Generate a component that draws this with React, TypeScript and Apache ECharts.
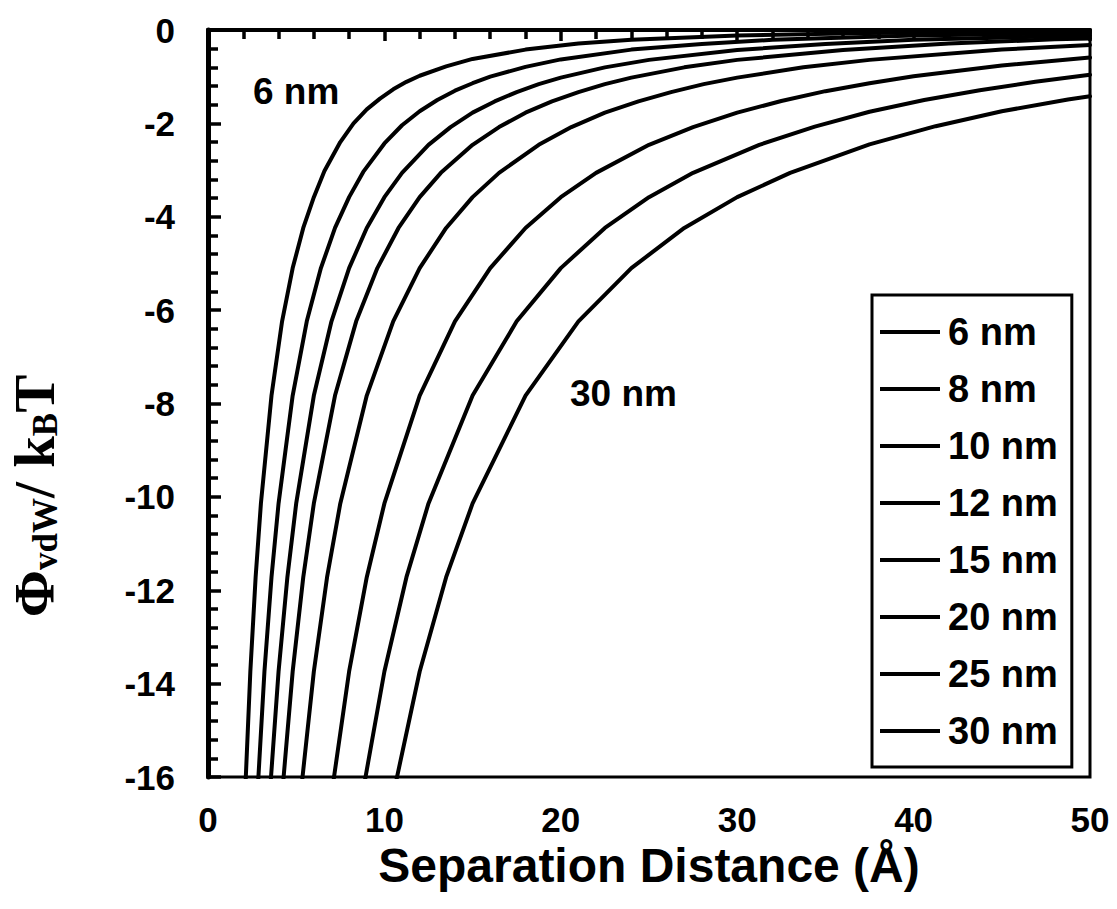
import React, { useEffect, useRef } from "react";
import * as echarts from "echarts";

const seriesNames = ["6 nm", "8 nm", "10 nm", "12 nm", "15 nm", "20 nm", "25 nm", "30 nm"];

const sep6 = [1.95, 2.1, 2.4, 2.7, 3.0, 3.6, 4.2, 4.8, 5.4, 6.0, 6.6, 7.5, 8.25, 9.0, 9.75, 10.5, 11.25, 12, 13.5, 15, 18, 21, 24, 30, 37.5, 50];
const pot6 = [-18.03, -16.38, -13.74, -11.72, -10.14, -7.83, -6.24, -5.10, -4.24, -3.58, -3.02, -2.40, -2.00, -1.70, -1.47, -1.27, -1.11, -0.98, -0.78, -0.62, -0.42, -0.29, -0.21, -0.12, -0.062, -0.025];

const sep8 = [2.6, 2.8, 3.2, 3.6, 4.0, 4.8, 5.6, 6.4, 7.2, 8.0, 8.8, 10, 11, 12, 13, 14, 15, 16, 18, 20, 24, 28, 32, 40, 50];
const pot8 = [-18.03, -16.38, -13.74, -11.72, -10.14, -7.83, -6.24, -5.10, -4.24, -3.58, -3.04, -2.43, -2.04, -1.74, -1.50, -1.30, -1.14, -1.00, -0.79, -0.63, -0.42, -0.30, -0.21, -0.12, -0.062];

const sep10 = [3.25, 3.5, 4, 4.5, 5, 6, 7, 8, 9, 10, 11, 12.5, 13.75, 15, 16.25, 17.5, 18.75, 20, 22.5, 25, 30, 35, 40, 50];
const pot10 = [-18.03, -16.38, -13.74, -11.72, -10.14, -7.83, -6.24, -5.10, -4.24, -3.58, -3.06, -2.46, -2.08, -1.77, -1.53, -1.33, -1.16, -1.02, -0.80, -0.64, -0.43, -0.30, -0.21, -0.12];

const sep12 = [3.9, 4.2, 4.8, 5.4, 6, 7.2, 8.4, 9.6, 10.8, 12, 13.2, 15, 16.5, 18, 19.5, 21, 22.5, 24, 27, 30, 36, 42, 48, 50];
const pot12 = [-18.03, -16.38, -13.74, -11.72, -10.14, -7.83, -6.24, -5.10, -4.24, -3.58, -3.06, -2.46, -2.08, -1.77, -1.53, -1.33, -1.16, -1.02, -0.80, -0.64, -0.43, -0.29, -0.20, -0.18];

const sep15 = [4.875, 5.25, 6, 6.75, 7.5, 9, 10.5, 12, 13.5, 15, 16.5, 18.75, 20.6, 22.5, 24.4, 26.25, 28.1, 30, 33.75, 37.5, 45, 50];
const pot15 = [-18.03, -16.38, -13.74, -11.72, -10.14, -7.83, -6.24, -5.10, -4.24, -3.58, -3.06, -2.46, -2.08, -1.77, -1.53, -1.33, -1.16, -1.02, -0.80, -0.64, -0.42, -0.32];

const sep20 = [6.5, 7, 8, 9, 10, 12, 14, 16, 18, 20, 22, 25, 27.5, 30, 32.5, 35, 37.5, 40, 45, 50];
const pot20 = [-18.03, -16.38, -13.74, -11.72, -10.14, -7.83, -6.24, -5.10, -4.24, -3.58, -3.06, -2.46, -2.08, -1.77, -1.52, -1.31, -1.14, -0.99, -0.76, -0.59];

const sep25 = [8.1, 8.75, 10, 11.25, 12.5, 15, 17.5, 20, 22.5, 25, 27.5, 31.25, 34.4, 37.5, 40.6, 43.75, 46.9, 50];
const pot25 = [-18.03, -16.38, -13.74, -11.72, -10.14, -7.83, -6.24, -5.10, -4.24, -3.58, -3.06, -2.46, -2.07, -1.75, -1.50, -1.29, -1.11, -0.96];

const sep30 = [9.75, 10.5, 12, 13.5, 15, 18, 21, 24, 27, 30, 33, 37.5, 41.25, 45, 48.75, 50];
const pot30 = [-18.03, -16.38, -13.74, -11.72, -10.14, -7.83, -6.24, -5.10, -4.24, -3.58, -3.06, -2.45, -2.06, -1.74, -1.49, -1.42];

const seps = [sep6, sep8, sep10, sep12, sep15, sep20, sep25, sep30];
const pots = [pot6, pot8, pot10, pot12, pot15, pot20, pot25, pot30];

const xTicks = { min: 0, max: 50, interval: 10 };
const yTicks = { min: -16, max: 0, interval: 2 };

const SANS = "'Liberation Sans', Arial, sans-serif";
const SERIF = "'Liberation Serif', 'Times New Roman', serif";

export default function App() {
  const ref = useRef<HTMLDivElement>(null);
  useEffect(() => {
    if (!ref.current) return;
    const chart = echarts.init(ref.current, undefined, { renderer: "svg" });
    const series = seriesNames.map((name, i) => ({
      name,
      type: "line",
      data: seps[i].map((x, j) => [x, pots[i][j]]),
      symbol: "none",
      showSymbol: false,
      smooth: false,
      clip: true,
      lineStyle: { color: "#000", width: 4, join: "round", cap: "round" },
      itemStyle: { color: "#000" },
      xAxisIndex: 0,
      yAxisIndex: 0,
    }));
    chart.setOption({
      animation: false,
      backgroundColor: "#fff",
      grid: {
        left: 208,
        top: 30,
        right: 27,
        bottom: 132,
        show: true,
        borderColor: "#000",
        borderWidth: 3,
        backgroundColor: "transparent",
      },
      xAxis: [
        {
          type: "value",
          position: "bottom",
          min: xTicks.min,
          max: xTicks.max,
          interval: xTicks.interval,
          axisLine: { show: true, lineStyle: { color: "#000", width: 3.5 } },
          axisTick: { show: false },
          splitLine: { show: false },
          axisLabel: {
            margin: 25,
            color: "#000",
            fontSize: 35,
            fontWeight: "bold",
            fontFamily: SANS,
          },
          name: "Separation Distance (Å)",
          nameLocation: "middle",
          nameGap: 60,
          nameTextStyle: {
            color: "#000",
            fontSize: 48,
            fontWeight: "bold",
            fontFamily: SANS,
          },
        },
        {
          type: "value",
          position: "top",
          min: xTicks.min,
          max: xTicks.max,
          interval: xTicks.interval,
          axisLine: { show: true, lineStyle: { color: "#000", width: 4 } },
          axisTick: { show: true, inside: true, length: 11, lineStyle: { color: "#000", width: 3.5 } },
          minorTick: { show: true, splitNumber: 5, length: 9, lineStyle: { color: "#000", width: 3.5 } },
          axisLabel: { show: false },
          splitLine: { show: false },
        },
      ],
      yAxis: {
        type: "value",
        min: yTicks.min,
        max: yTicks.max,
        interval: yTicks.interval,
        axisLine: { show: true, onZero: false, lineStyle: { color: "#000", width: 5 } },
        axisTick: { show: true, inside: true, length: 13, lineStyle: { color: "#000", width: 3.5 } },
        minorTick: { show: true, splitNumber: 5, length: 10, lineStyle: { color: "#000", width: 3.5 } },
        splitLine: { show: false },
        axisLabel: {
          margin: 33,
          color: "#000",
          fontSize: 35,
          fontWeight: "bold",
          fontFamily: SANS,
        },
      },
      legend: {
        orient: "vertical",
        left: 872,
        top: 295,
        padding: [18, 14, 17, 8],
        itemWidth: 60,
        itemHeight: 30,
        itemGap: 19,
        borderColor: "#000",
        borderWidth: 3,
        borderRadius: 0,
        backgroundColor: "#fff",
        icon: "path://M0,13 L60,13 L60,17 L0,17 Z",
        itemStyle: { color: "#000" },
        textStyle: {
          color: "#000",
          fontSize: 38,
          lineHeight: 37,
          fontWeight: "bold",
          fontFamily: SANS,
          padding: [0, 0, 0, 3],
        },
        data: seriesNames,
      },
      graphic: [
        {
          type: "text",
          left: 253,
          top: 73,
          style: {
            text: "6 nm",
            fill: "#000",
            font: `bold 37px ${SANS}`,
          },
        },
        {
          type: "text",
          left: 570,
          top: 375,
          style: {
            text: "30 nm",
            fill: "#000",
            font: `bold 37px ${SANS}`,
          },
        },
        {
          type: "text",
          x: 31,
          y: 496,
          rotation: Math.PI / 2,
          style: {
            text: "{a|Φ}{b|vdW}{a|/ k}{b|B}{a|T}",
            align: "center",
            verticalAlign: "middle",
            fill: "#000",
            rich: {
              a: { fontSize: 57, fontWeight: "bold", fontFamily: SERIF, fill: "#000", verticalAlign: "bottom", lineHeight: 64 },
              b: { fontSize: 35, fontWeight: "bold", fontFamily: SERIF, fill: "#000", verticalAlign: "bottom", lineHeight: 64 },
            },
          },
        },
      ],
      series,
    });
    return () => chart.dispose();
  }, []);
  return (
    <div
      ref={ref}
      style={{ position: "fixed", left: 0, top: 0, width: 1117, height: 909, background: "#fff" }}
    />
  );
}
